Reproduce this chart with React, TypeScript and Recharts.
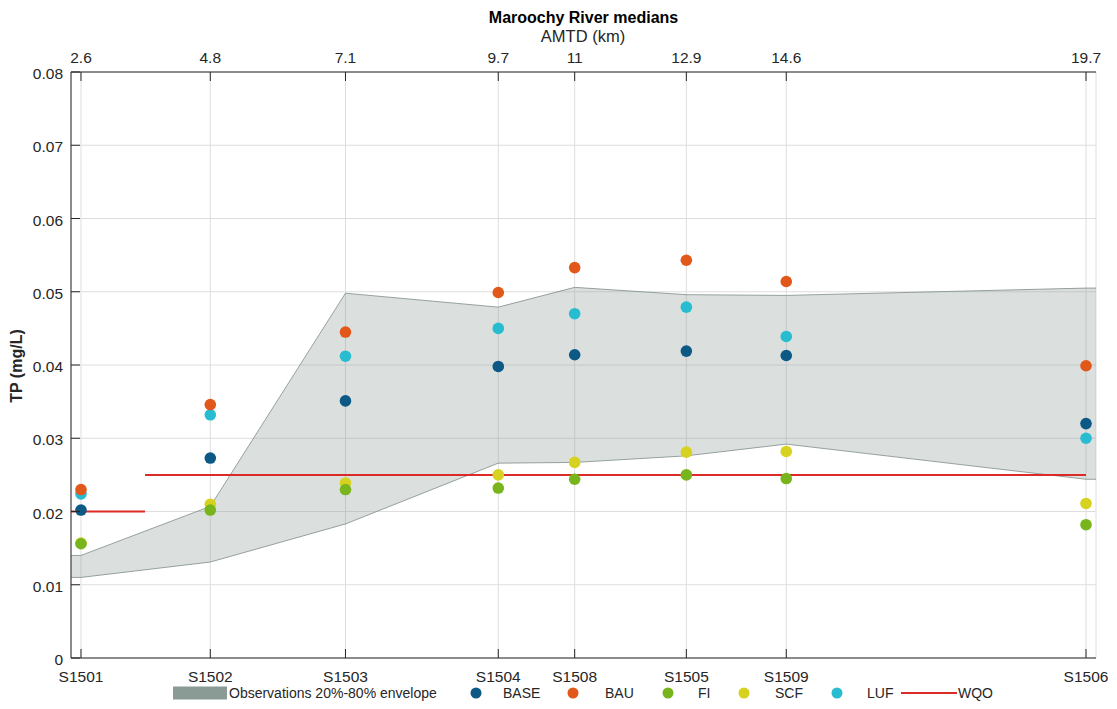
import React from 'react';
import { ComposedChart, XAxis, YAxis, CartesianGrid, Area, Line, Scatter } from 'recharts';

// ---------- data ----------
const stations = ['S1501', 'S1502', 'S1503', 'S1504', 'S1508', 'S1505', 'S1509', 'S1506'];
const amtd = [2.6, 4.8, 7.1, 9.7, 11, 12.9, 14.6, 19.7];
const amtdLabels = ['2.6', '4.8', '7.1', '9.7', '11', '12.9', '14.6', '19.7'];

const envLow = [0.011, 0.0131, 0.0183, 0.0266, 0.0267, 0.0276, 0.0292, 0.0244];
const envHigh = [0.014, 0.0207, 0.0498, 0.0479, 0.0506, 0.0496, 0.0495, 0.0505];

const baseVals = [0.0202, 0.0273, 0.0351, 0.0398, 0.0414, 0.0419, 0.0413, 0.032];
const bauVals = [0.023, 0.0346, 0.0445, 0.0499, 0.0533, 0.0543, 0.0514, 0.0399];
const fiVals = [0.0156, 0.0202, 0.023, 0.0232, 0.0244, 0.025, 0.0245, 0.0182];
const scfVals = [0.0157, 0.021, 0.0239, 0.025, 0.0267, 0.0281, 0.0282, 0.0211];
const lufVals = [0.0224, 0.0332, 0.0412, 0.045, 0.047, 0.0479, 0.0439, 0.03];

const wqoLow = 0.02;
const wqoHigh = 0.025;
const wqoBreak = 3.69;

const xDomain = [2.43, 19.87];
const yTicks = [0, 0.01, 0.02, 0.03, 0.04, 0.05, 0.06, 0.07, 0.08];
const yTickLabels = ['0', '0.01', '0.02', '0.03', '0.04', '0.05', '0.06', '0.07', '0.08'];

// ---------- derived tables ----------
const last = amtd.length - 1;
const envelopeData = [
  { x: xDomain[0], range: [envLow[0], envHigh[0]] },
  ...amtd.map((x, i) => ({ x, range: [envLow[i], envHigh[i]] })),
  { x: xDomain[1], range: [envLow[last], envHigh[last]] },
];
const toPts = (vals: number[]) => amtd.map((x, i) => ({ x, y: vals[i] }));
const wqoSeg1 = [{ x: xDomain[0], y: wqoLow }, { x: wqoBreak, y: wqoLow }];
const wqoSeg2 = [{ x: wqoBreak, y: wqoHigh }, { x: amtd[last], y: wqoHigh }];

const C = {
  base: '#0d5986',
  bau: '#e2571a',
  fi: '#78b51c',
  scf: '#d6d21f',
  luf: '#27bccf',
  wqo: '#dc2a26',
  env: '#8a9b95',
  envStroke: '#7f8d89',
  axis: '#262626',
  grid: '#dedede',
};
const FONT = '"Liberation Sans", Arial, Helvetica, sans-serif';
const TICK_FS = 15.5;
const TICK_LEN = 9;

// Page is offset by the 8px body margin; everything below is in wrapper coordinates.
const W = 1101;
const H = 693;
const LEG_Y = 685;

const dot = (color: string) => (props: any) => (
  <circle cx={props.cx} cy={props.cy} r={5.8} fill={color} stroke="none" />
);

const BottomTick = (p: any) => {
  const i = amtd.indexOf(p.payload.value);
  return (
    <g>
      <line x1={p.x} x2={p.x} y1={p.y} y2={p.y - TICK_LEN} stroke={C.axis} strokeWidth={1} />
      <text x={p.x} y={p.y + 23.5} textAnchor="middle" fontSize={TICK_FS} fontFamily={FONT} fill={C.axis}>
        {stations[i]}
      </text>
    </g>
  );
};

const TopTick = (p: any) => {
  const i = amtd.indexOf(p.payload.value);
  return (
    <g>
      <line x1={p.x} x2={p.x} y1={p.y + 9} y2={p.y + 9 + TICK_LEN} stroke={C.axis} strokeWidth={1} />
      <text x={p.x} y={p.y} textAnchor="middle" fontSize={TICK_FS} fontFamily={FONT} fill={C.axis}>
        {amtdLabels[i]}
      </text>
    </g>
  );
};

const LeftTick = (p: any) => {
  const i = yTicks.indexOf(p.payload.value);
  return (
    <g>
      <line x1={p.x + 8} x2={p.x + 8 + TICK_LEN} y1={p.y} y2={p.y} stroke={C.axis} strokeWidth={1} />
      <text x={p.x} y={p.y + 7} textAnchor="end" fontSize={TICK_FS} fontFamily={FONT} fill={C.axis}>
        {yTickLabels[i]}
      </text>
    </g>
  );
};

const legendDots = [
  { name: 'BASE', color: C.base, cx: 468, tx: 495 },
  { name: 'BAU', color: C.bau, cx: 565, tx: 597 },
  { name: 'FI', color: C.fi, cx: 660, tx: 690 },
  { name: 'SCF', color: C.scf, cx: 736, tx: 767 },
  { name: 'LUF', color: C.luf, cx: 829, tx: 859 },
];

export default function App() {
  return (
    <div style={{ position: 'relative', width: W, height: H, fontFamily: FONT }}>
      <ComposedChart
        width={W}
        height={H}
        data={envelopeData}
        margin={{ top: 0, right: 13, bottom: 0, left: 0 }}
      >
        <CartesianGrid xAxisId="b" yAxisId="l" stroke={C.grid} strokeWidth={1} />
        <XAxis
          xAxisId="b"
          dataKey="x"
          type="number"
          orientation="bottom"
          domain={xDomain}
          ticks={amtd}
          interval={0}
          allowDataOverflow
          height={43}
          tickSize={0}
          tickMargin={0}
          tickLine={false}
          axisLine={{ stroke: C.axis, strokeWidth: 1 }}
          tick={BottomTick}
        />
        <XAxis
          xAxisId="t"
          dataKey="x"
          type="number"
          orientation="top"
          domain={xDomain}
          ticks={amtd}
          interval={0}
          allowDataOverflow
          height={64}
          tickSize={0}
          tickMargin={9}
          tickLine={false}
          axisLine={{ stroke: C.axis, strokeWidth: 1 }}
          tick={TopTick}
        />
        <YAxis
          yAxisId="l"
          dataKey="y"
          type="number"
          domain={[0, 0.08]}
          ticks={yTicks}
          interval={0}
          allowDataOverflow
          width={63}
          tickSize={0}
          tickMargin={8}
          tickLine={false}
          axisLine={{ stroke: C.axis, strokeWidth: 1 }}
          tick={LeftTick}
        />
        <Area
          xAxisId="b"
          yAxisId="l"
          type="linear"
          dataKey="range"
          fill={C.env}
          fillOpacity={0.31}
          stroke={C.envStroke}
          strokeWidth={0.8}
          isAnimationActive={false}
          dot={false}
          activeDot={false}
        />
        <Line xAxisId="b" yAxisId="l" data={wqoSeg1} dataKey="y" type="linear" stroke={C.wqo} strokeWidth={2} dot={false} activeDot={false} isAnimationActive={false} />
        <Line xAxisId="b" yAxisId="l" data={wqoSeg2} dataKey="y" type="linear" stroke={C.wqo} strokeWidth={2} dot={false} activeDot={false} isAnimationActive={false} />
        <Scatter xAxisId="b" yAxisId="l" data={toPts(lufVals)} dataKey="y" shape={dot(C.luf)} isAnimationActive={false} />
        <Scatter xAxisId="b" yAxisId="l" data={toPts(scfVals)} dataKey="y" shape={dot(C.scf)} isAnimationActive={false} />
        <Scatter xAxisId="b" yAxisId="l" data={toPts(fiVals)} dataKey="y" shape={dot(C.fi)} isAnimationActive={false} />
        <Scatter xAxisId="b" yAxisId="l" data={toPts(bauVals)} dataKey="y" shape={dot(C.bau)} isAnimationActive={false} />
        <Scatter xAxisId="b" yAxisId="l" data={toPts(baseVals)} dataKey="y" shape={dot(C.base)} isAnimationActive={false} />
      </ComposedChart>
      <svg
        width={W}
        height={H}
        overflow="visible"
        style={{ position: 'absolute', left: 0, top: 0, pointerEvents: 'none', overflow: 'visible' }}
      >
        <text x={575.5} y={15} textAnchor="middle" fontSize={16} fontWeight="bold" fontFamily={FONT} fill="#000">
          Maroochy River medians
        </text>
        <text x={575} y={34} textAnchor="middle" fontSize={16.5} fontFamily={FONT} fill={C.axis}>
          AMTD (km)
        </text>
        <text
          x={0}
          y={0}
          transform="translate(14,358) rotate(-90)"
          textAnchor="middle"
          fontSize={16}
          fontWeight="bold"
          fontFamily={FONT}
          fill={C.axis}
        >
          TP (mg/L)
        </text>
        {/* legend */}
        <rect x={165} y={LEG_Y - 6.5} width={54} height={13} fill={C.env} />
        <text x={221} y={LEG_Y + 5} fontSize={14} fontFamily={FONT} fill={C.axis}>
          Observations 20%-80% envelope
        </text>
        {legendDots.map((d) => (
          <g key={d.name}>
            <circle cx={d.cx} cy={LEG_Y} r={5.5} fill={d.color} />
            <text x={d.tx} y={LEG_Y + 5} fontSize={14} fontFamily={FONT} fill={C.axis}>
              {d.name}
            </text>
          </g>
        ))}
        <line x1={893} x2={949} y1={LEG_Y} y2={LEG_Y} stroke={C.wqo} strokeWidth={2} />
        <text x={950} y={LEG_Y + 5} fontSize={14} fontFamily={FONT} fill={C.axis}>
          WQO
        </text>
      </svg>
    </div>
  );
}
